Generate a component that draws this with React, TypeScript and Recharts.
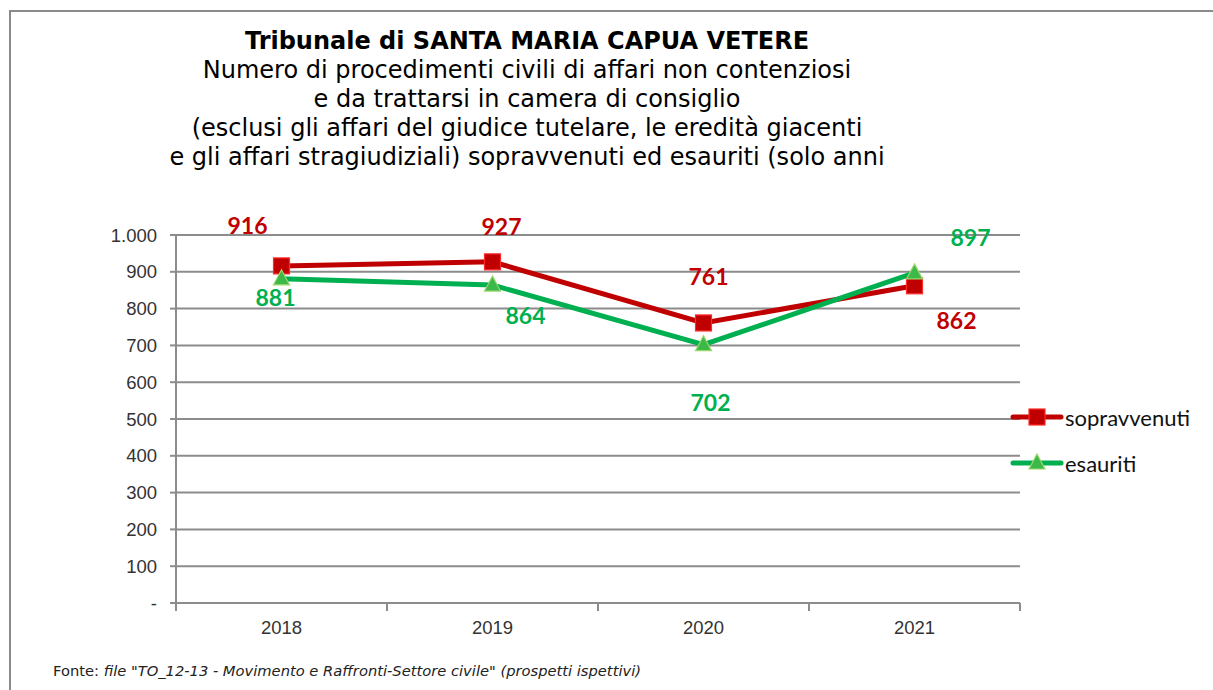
import React from 'react';
import { LineChart, Line, XAxis, YAxis, CartesianGrid, LabelList } from 'recharts';

const years = ['2018', '2019', '2020', '2021'];
const sopravvenuti = [916, 927, 761, 862];
const esauriti = [881, 864, 702, 897];
const yTicks = [0, 100, 200, 300, 400, 500, 600, 700, 800, 900, 1000];

// label offsets from each point (picture layout, not data)
const redOffsets = [[-34, -41], [9, -36], [5, -47], [42, 34]];
const greenOffsets = [[-6, 18], [33, 30], [7, 57], [56, -36]];

const RED = '#C00000';
const GREEN = '#00B050';
const GRID = '#8C8C8C';
const BAND = 211;

const data = years.map((y, i) => ({ year: y, sopravvenuti: sopravvenuti[i], esauriti: esauriti[i] }));

const fmtY = (v: number) => (v === 0 ? '-' : v >= 1000 ? `${Math.floor(v / 1000)}.${String(v % 1000).padStart(3, '0')}` : String(v));

const SquareDot = (props: any) => {
  const { cx, cy } = props;
  if (cx == null || cy == null) return null;
  return <rect x={cx - 8} y={cy - 8} width={16} height={16} fill={RED} stroke="#FF2A2A" strokeWidth={1.2} />;
};

const TriangleDot = (props: any) => {
  const { cx, cy } = props;
  if (cx == null || cy == null) return null;
  return (
    <polygon
      points={`${cx},${cy - 9} ${cx + 8},${cy + 6} ${cx - 8},${cy + 6}`}
      fill="#3DB84A"
      stroke="#9BD86A"
      strokeWidth={1.2}
    />
  );
};

const makeLabel = (offsets: number[][], color: string) => (props: any) => {
  const { x, y, value, index } = props;
  const [dx, dy] = offsets[index];
  return (
    <text
      x={x + dx}
      y={y + dy}
      textAnchor="middle"
      dominantBaseline="central"
      fill={color}
      fontFamily="Lato, 'Open Sans', sans-serif"
      fontWeight={700}
      fontSize={23}
    >
      {value}
    </text>
  );
};

const XTick = (props: any) => {
  const { x, y, payload, index } = props;
  return (
    <g>
      <line x1={x - BAND / 2} x2={x - BAND / 2} y1={y} y2={y + 8} stroke={GRID} strokeWidth={2} />
      {index === years.length - 1 && (
        <line x1={x + BAND / 2} x2={x + BAND / 2} y1={y} y2={y + 8} stroke={GRID} strokeWidth={2} />
      )}
      <text x={x} y={y + 31} textAnchor="middle" fill="#333" fontFamily="'Liberation Sans', Arial, sans-serif" fontSize={18.5}>
        {payload.value}
      </text>
    </g>
  );
};

const LegendBox = () => (
  <svg width={200} height={80} style={{ position: 'absolute', left: 1011, top: 405, overflow: 'visible' }}>
    <g>
      <line x1={2} x2={50} y1={12} y2={12} stroke={RED} strokeWidth={5} strokeLinecap="round" />
      <SquareDot cx={26} cy={12} />
      <text x={54} y={12} dominantBaseline="central" fontFamily="Lato, sans-serif" fontSize={22} fill="#111">sopravvenuti</text>
    </g>
    <g>
      <line x1={2} x2={50} y1={58} y2={58} stroke={GREEN} strokeWidth={5} strokeLinecap="round" />
      <TriangleDot cx={26} cy={58} />
      <text x={54} y={58} dominantBaseline="central" fontFamily="Lato, sans-serif" fontSize={22} fill="#111">esauriti</text>
    </g>
  </svg>
);

const titleFont = "'DejaVu Sans', sans-serif";

export default function App() {
  return (
    <div style={{ position: 'absolute', left: 0, top: 0, width: 1213, height: 690, background: '#fff', overflow: 'hidden' }}>
      <div style={{ position: 'absolute', left: 9, top: 10, width: 1240, height: 720, border: '2px solid #8a8a8a', boxSizing: 'border-box' }} />
      <div style={{ position: 'absolute', left: 27, width: 1000, top: 27, textAlign: 'center', fontFamily: titleFont, color: '#000', fontSize: 24, lineHeight: '29px' }}>
        <div style={{ fontWeight: 700 }}>Tribunale di SANTA MARIA CAPUA VETERE</div>
        <div>Numero di procedimenti civili di affari non contenziosi</div>
        <div>e da trattarsi in camera di consiglio</div>
        <div>(esclusi gli affari del giudice tutelare, le eredità giacenti</div>
        <div>e gli affari stragiudiziali) sopravvenuti ed esauriti (solo anni</div>
      </div>
      <div style={{ position: 'absolute', left: 53, top: 662, fontFamily: titleFont, fontSize: 14.7, color: '#222' }}>
        Fonte: <i>file "TO_12-13 - Movimento e Raffronti-Settore civile" (prospetti ispettivi)</i>
      </div>
      <div style={{ position: 'absolute', left: 0, top: 0 }}>
        <LineChart width={1213} height={690} data={data} margin={{ top: 235, right: 193, bottom: 57, left: 116 }}>
          <CartesianGrid vertical={false} stroke={GRID} strokeWidth={2} />
          <XAxis
            dataKey="year"
            scale="band"
            tickLine={false}
            tickSize={0}
            tickMargin={0}
            height={30}
            axisLine={{ stroke: GRID, strokeWidth: 2 }}
            tick={<XTick />}
            interval={0}
          />
          <YAxis
            width={60}
            domain={[0, 1000]}
            ticks={yTicks}
            tickFormatter={fmtY}
            axisLine={{ stroke: GRID, strokeWidth: 2 }}
            tickLine={{ stroke: GRID, strokeWidth: 2 }}
            tickSize={6}
            tickMargin={13}
            tick={{ fill: '#333', fontFamily: "'Liberation Sans', Arial, sans-serif", fontSize: 18.5 }}
            interval={0}
          />
          <Line
            type="linear"
            dataKey="sopravvenuti"
            stroke={RED}
            strokeWidth={5}
            dot={<SquareDot />}
            activeDot={false}
            isAnimationActive={false}
          >
            <LabelList dataKey="sopravvenuti" content={makeLabel(redOffsets, RED)} />
          </Line>
          <Line
            type="linear"
            dataKey="esauriti"
            stroke={GREEN}
            strokeWidth={5}
            dot={<TriangleDot />}
            activeDot={false}
            isAnimationActive={false}
          >
            <LabelList dataKey="esauriti" content={makeLabel(greenOffsets, GREEN)} />
          </Line>
        </LineChart>
      </div>
      <LegendBox />
    </div>
  );
}
